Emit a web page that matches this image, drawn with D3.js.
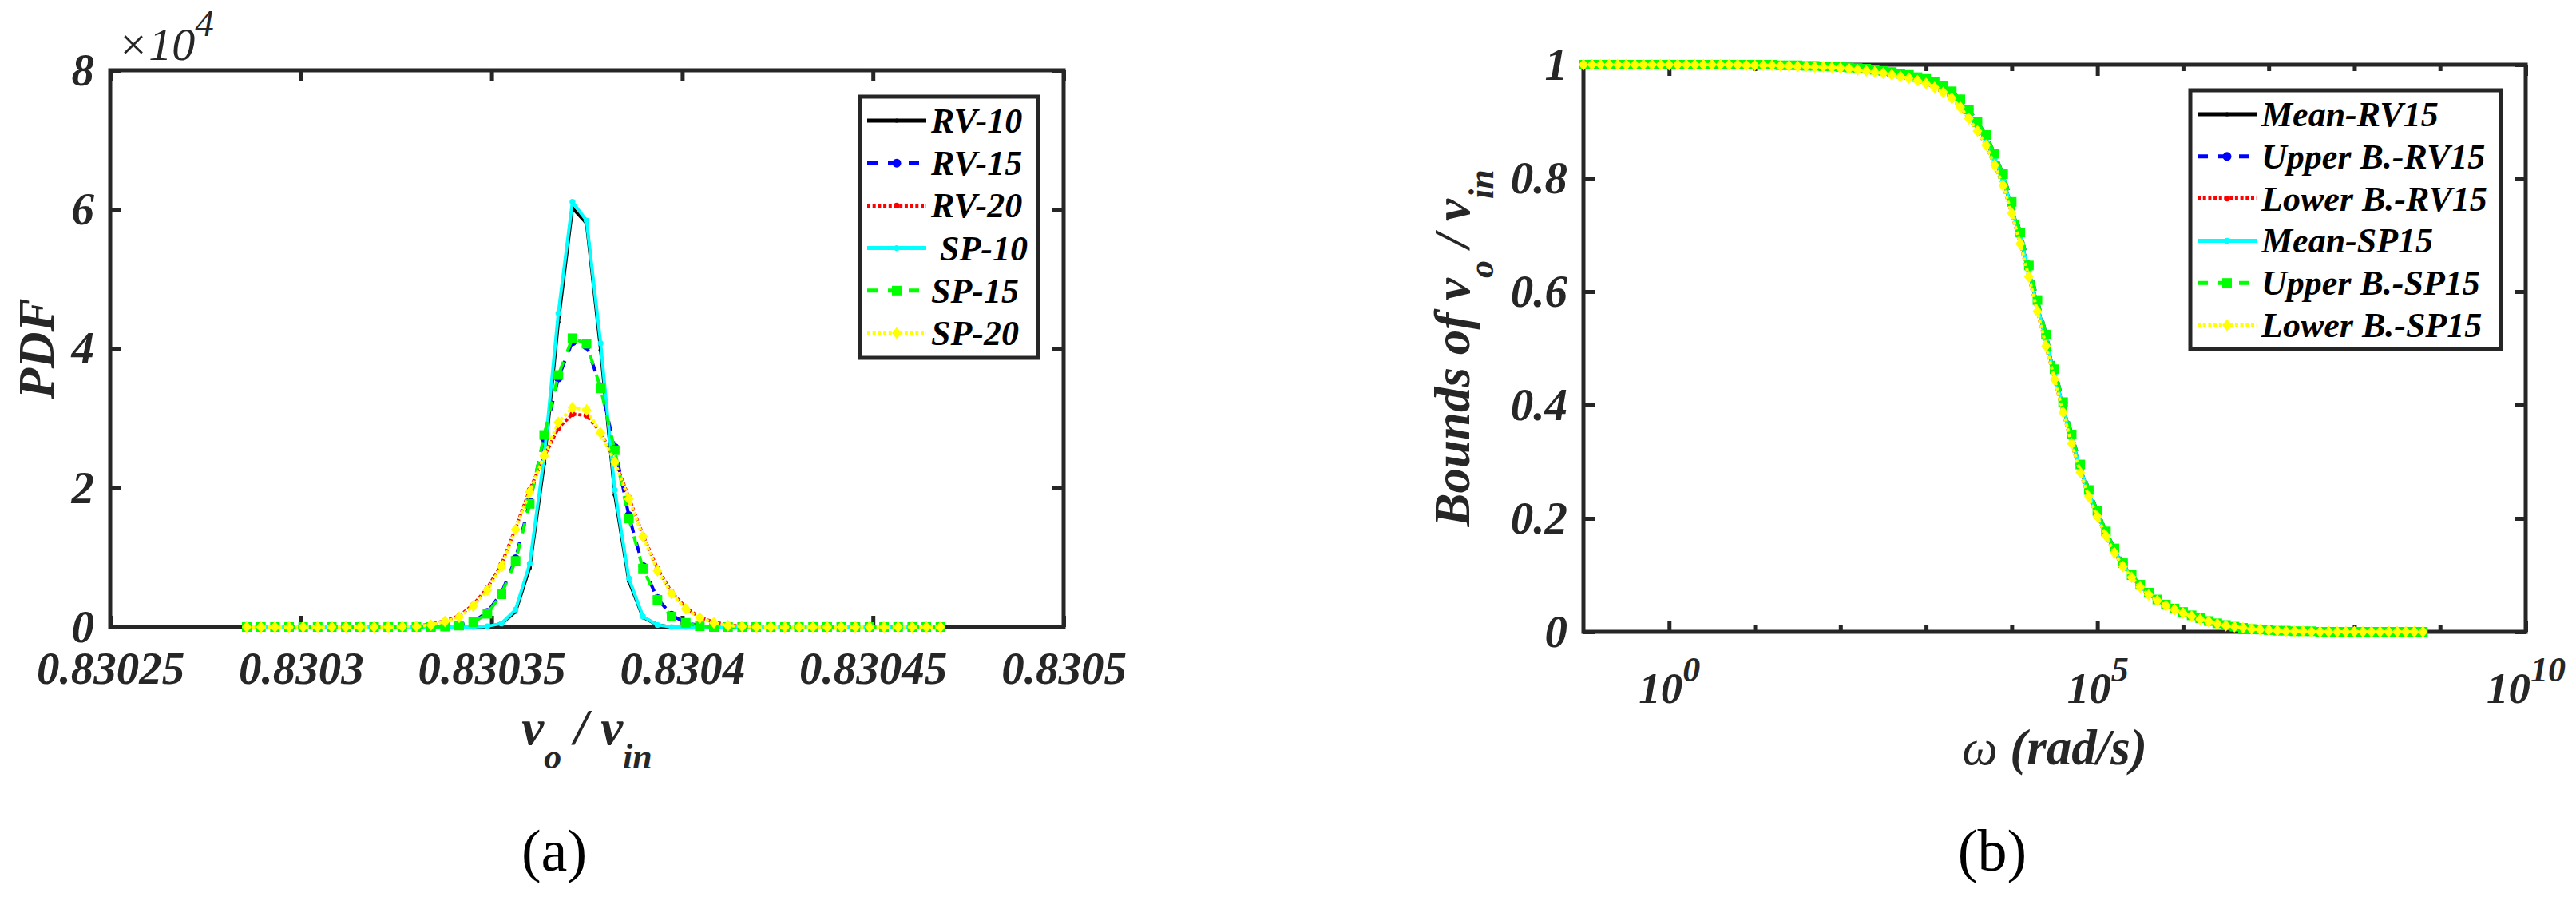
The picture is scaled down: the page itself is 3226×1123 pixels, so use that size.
<!DOCTYPE html>
<html><head><meta charset="utf-8">
<script src="https://cdn.jsdelivr.net/npm/d3@7"></script>
<style>
html,body{margin:0;padding:0;background:#fff;}
svg{display:block;}
text{white-space:pre;}
</style></head>
<body>
<svg id="fig" width="3226" height="1123"></svg>
<script>
// ================= DATA : panel (a)  PDF of vo/vin =================
const pdfX = [0.8302858,0.8302895,0.8302932,0.8302969,0.8303006,0.8303044,0.8303081,0.8303118,0.8303155,0.8303192,
              0.8303229,0.8303266,0.8303303,0.8303341,0.8303378,0.8303415,0.8303452,0.8303489,0.8303526,0.8303563,
              0.8303600,0.8303638,0.8303675,0.8303712,0.8303749,0.8303786,0.8303823,0.8303860,0.8303897,0.8303935,
              0.8303972,0.8304009,0.8304046,0.8304083,0.8304120,0.8304157,0.8304194,0.8304232,0.8304269,0.8304306,
              0.8304343,0.8304380,0.8304417,0.8304454,0.8304491,0.8304529,0.8304566,0.8304603,0.8304640,0.8304677];
// PDF values in units of 10^4
const rv10 = [0,0,0,0,0,0,0,0,0,0, 0,0,0,0,0,0,0,0,0.05,0.22, 0.85,2.35,4.38,6.02,5.80,3.98,1.90,0.66,0.14,0.03,
              0,0,0,0,0,0,0,0,0,0, 0,0,0,0,0,0,0,0,0,0];
const rv15 = [0,0,0,0,0,0,0,0,0,0, 0,0,0,0,0.01,0.03,0.08,0.21,0.49,0.98, 1.80,2.72,3.58,4.10,4.04,3.45,2.58,1.60,0.87,0.41,
              0.17,0.06,0.02,0,0,0,0,0,0,0, 0,0,0,0,0,0,0,0,0,0];
const rv20 = [0,0,0,0,0,0,0,0,0,0, 0,0.005,0.015,0.04,0.09,0.16,0.32,0.56,0.90,1.42, 1.97,2.45,2.86,3.06,3.04,2.80,2.40,1.86,1.32,0.84,
              0.50,0.28,0.14,0.07,0.03,0.01,0,0,0,0, 0,0,0,0,0,0,0,0,0,0];
const sp10 = [0,0,0,0,0,0,0,0,0,0, 0,0,0,0,0,0,0,0.01,0.05,0.25, 0.91,2.45,4.51,6.11,5.84,4.08,1.97,0.70,0.15,0.03,
              0,0,0,0,0,0,0,0,0,0, 0,0,0,0,0,0,0,0,0,0];
const sp15 = [0,0,0,0,0,0,0,0,0,0, 0,0,0,0,0.005,0.02,0.07,0.19,0.47,0.95, 1.77,2.76,3.62,4.15,4.07,3.43,2.54,1.56,0.84,0.39,
              0.15,0.06,0.01,0,0,0,0,0,0,0, 0,0,0,0,0,0,0,0,0,0];
const sp20 = [0,0,0,0,0,0,0,0,0,0, 0,0.005,0.01,0.03,0.08,0.14,0.30,0.53,0.87,1.40, 1.94,2.46,2.94,3.15,3.12,2.79,2.37,1.84,1.30,0.81,
              0.48,0.26,0.13,0.06,0.02,0.01,0,0,0,0, 0,0,0,0,0,0,0,0,0,0];
const pdfXTicks = [0.83025, 0.8303, 0.83035, 0.8304, 0.83045, 0.8305];
const pdfXTickLabels = ["0.83025", "0.8303", "0.83035", "0.8304", "0.83045", "0.8305"];
const pdfYTicks = [0, 2, 4, 6, 8];
const pdfYTickLabels = ["0", "2", "4", "6", "8"];
const pdfNames = ["RV-10", "RV-15", "RV-20", "\u00A0SP-10", "SP-15", "SP-20"];

// ================= DATA : panel (b)  bounds of vo/vin vs omega =================
const omegaExp = [-1.0,-0.9,-0.8,-0.7,-0.6,-0.5,-0.4,-0.3,-0.2,-0.1,
                   0.0, 0.1, 0.2, 0.3, 0.4, 0.5, 0.6, 0.7, 0.8, 0.9,
                   1.0, 1.1, 1.2, 1.3, 1.4, 1.5, 1.6, 1.7, 1.8, 1.9,
                   2.0, 2.1, 2.2, 2.3, 2.4, 2.5, 2.6, 2.7, 2.8, 2.9,
                   3.0, 3.1, 3.2, 3.3, 3.4, 3.5, 3.6, 3.7, 3.8, 3.9,
                   4.0, 4.1, 4.2, 4.3, 4.4, 4.5, 4.6, 4.7, 4.8, 4.9,
                   5.0, 5.1, 5.2, 5.3, 5.4, 5.5, 5.6, 5.7, 5.8, 5.9,
                   6.0, 6.1, 6.2, 6.3, 6.4, 6.5, 6.6, 6.7, 6.8, 6.9,
                   7.0, 7.1, 7.2, 7.3, 7.4, 7.5, 7.6, 7.7, 7.8, 7.9,
                   8.0, 8.1, 8.2, 8.3, 8.4, 8.5, 8.6, 8.7, 8.8];
const meanRV15 = [1.000,1.000,1.000,1.000,1.000,1.000,1.000,1.000,1.000,1.000,
                  1.000,1.000,1.000,1.000,1.000,1.000,1.000,1.000,1.000,1.000,
                  1.000,1.000,0.999,0.999,0.999,0.998,0.998,0.997,0.997,0.996,
                  0.995,0.994,0.993,0.991,0.989,0.987,0.985,0.982,0.979,0.975,
                  0.971,0.965,0.957,0.947,0.932,0.913,0.891,0.867,0.833,0.797,
                  0.748,0.694,0.636,0.575,0.514,0.454,0.396,0.340,0.288,0.244,
                  0.208,0.173,0.143,0.118,0.098,0.081,0.067,0.056,0.047,0.040,
                  0.034,0.028,0.023,0.019,0.015,0.012,0.009,0.007,0.005,0.004,
                  0.003,0.002,0.002,0.001,0.001,0.001,0.000,0.000,0.000,0.000,
                  0.000,0.000,0.000,0.000,0.000,0.000,0.000,0.000,0.000];
const upperRV15 = [1.000,1.000,1.000,1.000,1.000,1.000,1.000,1.000,1.000,1.000,
                   1.000,1.000,1.000,1.000,1.000,1.000,1.000,1.000,1.000,1.000,
                   1.000,1.000,1.000,0.999,0.999,0.999,0.998,0.998,0.997,0.997,
                   0.996,0.995,0.994,0.993,0.991,0.989,0.987,0.984,0.982,0.978,
                   0.975,0.970,0.963,0.953,0.939,0.921,0.899,0.876,0.843,0.807,
                   0.758,0.704,0.646,0.585,0.524,0.463,0.405,0.348,0.295,0.250,
                   0.213,0.177,0.147,0.121,0.100,0.083,0.069,0.057,0.048,0.041,
                   0.035,0.029,0.024,0.019,0.015,0.012,0.009,0.007,0.005,0.004,
                   0.003,0.002,0.002,0.001,0.001,0.001,0.000,0.000,0.000,0.000,
                   0.000,0.000,0.000,0.000,0.000,0.000,0.000,0.000,0.000];
const lowerRV15 = [1.000,1.000,1.000,1.000,1.000,1.000,1.000,1.000,1.000,1.000,
                   1.000,1.000,1.000,1.000,1.000,1.000,1.000,1.000,1.000,0.999,
                   0.999,0.999,0.999,0.998,0.998,0.997,0.997,0.996,0.996,0.995,
                   0.994,0.993,0.991,0.989,0.987,0.985,0.982,0.979,0.976,0.972,
                   0.967,0.960,0.951,0.941,0.925,0.905,0.883,0.858,0.823,0.787,
                   0.738,0.684,0.626,0.565,0.504,0.445,0.387,0.332,0.281,0.238,
                   0.203,0.169,0.139,0.115,0.096,0.079,0.065,0.055,0.046,0.039,
                   0.033,0.027,0.022,0.018,0.014,0.011,0.009,0.007,0.005,0.004,
                   0.003,0.002,0.001,0.001,0.001,0.000,0.000,0.000,0.000,0.000,
                   0.000,0.000,0.000,0.000,0.000,0.000,0.000,0.000,0.000];
// the SP15 bounds coincide with the RV15 bounds in the reference
const meanSP15 = meanRV15, upperSP15 = upperRV15, lowerSP15 = lowerRV15;
const boundYTicks = [0, 0.2, 0.4, 0.6, 0.8, 1];
const boundYTickLabels = ["0", "0.2", "0.4", "0.6", "0.8", "1"];
const omegaMajorTicks = [1, 1e5, 1e10];
const omegaMajorExp = ["0", "5", "10"];
const omegaMinorTicks = [1e1, 1e2, 1e3, 1e4, 1e6, 1e7, 1e8, 1e9];
const boundNames = ["Mean-RV15", "Upper B.-RV15", "Lower B.-RV15", "Mean-SP15", "Upper B.-SP15", "Lower B.-SP15"];

// ================= STYLE =================
const FONT = "'Liberation Serif','Times New Roman',Times,serif";
const AX = "#262626";
const seriesStyle = [
  {color:"#000000", dash:null,       marker:"circle",  size:2.6},
  {color:"#0000ff", dash:"13,13",    marker:"circle",  size:5.5},
  {color:"#ff0000", dash:"4,2.7",    marker:"circle",  size:3.6},
  {color:"#00ffff", dash:null,       marker:"circle",  size:3.6},
  {color:"#00ff00", dash:"13,13",    marker:"square",  size:6},
  {color:"#ffff00", dash:"4,2.7",    marker:"diamond", size:6}
];

const svg = d3.select("#fig");
svg.append("rect").attr("width",3226).attr("height",1123).attr("fill","#fff");

function styleAxis(g, fs, bold) {
  g.attr("font-family", null).attr("font-size", null);
  g.select(".domain").remove();
  g.selectAll(".tick line").attr("stroke", AX).attr("stroke-width", 5);
  g.selectAll(".tick text").attr("fill", AX).attr("font-family", FONT)
    .attr("font-size", fs).attr("font-style", "italic").attr("font-weight", bold ? "bold" : "normal");
}

function drawMarker(sel, st, cx, cy) {
  if (st.marker === "circle") {
    sel.append("circle").attr("cx", cx).attr("cy", cy).attr("r", st.size).attr("fill", st.color);
  } else if (st.marker === "square") {
    sel.append("rect").attr("x", cx - st.size).attr("y", cy - st.size)
      .attr("width", 2 * st.size).attr("height", 2 * st.size).attr("fill", st.color);
  } else {
    const w = st.size, h = st.size * 1.25;
    sel.append("path").attr("d", `M${cx},${cy-h}L${cx+w},${cy}L${cx},${cy+h}L${cx-w},${cy}Z`).attr("fill", st.color);
  }
}

function drawSeries(g, xs, ys, xScale, yScale, st) {
  const line = d3.line().x((d, i) => xScale(xs[i])).y(d => yScale(d));
  g.append("path").datum(ys).attr("d", line).attr("fill", "none")
    .attr("stroke", st.color).attr("stroke-width", 4)
    .attr("stroke-dasharray", st.dash).attr("stroke-linejoin", "round");
  const mg = g.append("g");
  ys.forEach((v, i) => drawMarker(mg, st, xScale(xs[i]), yScale(v)));
}

function drawLegend(g, box, names, lineX0, lineX1, textX, row0, rowStep) {
  g.append("rect").attr("x", box[0]).attr("y", box[1]).attr("width", box[2] - box[0]).attr("height", box[3] - box[1])
    .attr("fill", "#fff").attr("stroke", AX).attr("stroke-width", 5);
  names.forEach((nm, i) => {
    const st = seriesStyle[i];
    const y = row0 + i * rowStep;
    g.append("line").attr("x1", lineX0).attr("x2", lineX1).attr("y1", y).attr("y2", y)
      .attr("stroke", st.color).attr("stroke-width", 5).attr("stroke-dasharray", st.dash);
    drawMarker(g, st, (lineX0 + lineX1) / 2, y);
    g.append("text").attr("x", textX).attr("y", y + 15).text(nm)
      .attr("font-family", FONT).attr("font-size", 44).attr("font-weight", "bold").attr("font-style", "italic").attr("fill", "#000");
  });
}

// ================= PANEL (a) =================
const A = {left:138, right:1332, top:88, bottom:785};
const xA = d3.scaleLinear().domain([0.83025, 0.8305]).range([A.left, A.right]);
const yA = d3.scaleLinear().domain([0, 8]).range([A.bottom, A.top]);
const gA = svg.append("g");

gA.append("rect").attr("x", A.left).attr("y", A.top).attr("width", A.right - A.left).attr("height", A.bottom - A.top)
  .attr("fill", "none").attr("stroke", AX).attr("stroke-width", 5);
gA.append("g").attr("transform", `translate(0,${A.bottom})`)
  .call(d3.axisBottom(xA).tickValues(pdfXTicks).tickFormat((d, i) => pdfXTickLabels[i]).tickSizeInner(-14).tickSizeOuter(0).tickPadding(31))
  .call(g => styleAxis(g, 57, true));
gA.append("g").attr("transform", `translate(0,${A.top})`)
  .call(d3.axisTop(xA).tickValues(pdfXTicks).tickFormat("").tickSizeInner(-14).tickSizeOuter(0))
  .call(g => styleAxis(g, 57, true));
gA.append("g").attr("transform", `translate(${A.left},0)`)
  .call(d3.axisLeft(yA).tickValues(pdfYTicks).tickFormat((d, i) => pdfYTickLabels[i]).tickSizeInner(-14).tickSizeOuter(0).tickPadding(20))
  .call(g => styleAxis(g, 57, true));
gA.append("g").attr("transform", `translate(${A.right},0)`)
  .call(d3.axisRight(yA).tickValues(pdfYTicks).tickFormat("").tickSizeInner(-14).tickSizeOuter(0))
  .call(g => styleAxis(g, 57, true));

// exponent label x10^4
const expA = gA.append("text").attr("x", A.left + 9).attr("y", 75).attr("fill", AX)
  .attr("font-family", FONT).attr("font-style", "italic");
expA.append("tspan").attr("font-size", 58).text("\u00D710");
expA.append("tspan").attr("font-size", 47).attr("dy", -30).text("4");

[rv10, rv15, rv20, sp10, sp15, sp20].forEach((ys, k) => drawSeries(gA, pdfX, ys, xA, yA, seriesStyle[k]));

drawLegend(gA, [1077, 121, 1300, 448], pdfNames, 1086, 1160, 1166, 151, 53.2);

// axis labels
gA.append("text").attr("transform", `translate(67,${(A.top + A.bottom) / 2}) rotate(-90)`)
  .attr("text-anchor", "middle").attr("font-family", FONT).attr("font-size", 63)
  .attr("font-weight", "bold").attr("font-style", "italic").attr("fill", AX).text("PDF");
function vRatio(t) {
  t.append("tspan").text("v");
  t.append("tspan").attr("font-size", 44).attr("dy", 30).text("o");
  t.append("tspan").attr("dy", -30).text(" / v");
  t.append("tspan").attr("font-size", 44).attr("dy", 30).text("in");
}
const xlA = gA.append("text").attr("x", (A.left + A.right) / 2).attr("y", 932).attr("text-anchor", "middle")
  .attr("font-family", FONT).attr("font-size", 63).attr("font-weight", "bold").attr("font-style", "italic").attr("fill", AX);
vRatio(xlA);

svg.append("text").attr("x", 694).attr("y", 1090).attr("text-anchor", "middle")
  .attr("font-family", FONT).attr("font-size", 74).attr("fill", "#000").text("(a)");

// ================= PANEL (b) =================
const B = {left:1983, right:3163, top:81, bottom:791};
const xB = d3.scaleLog().domain([0.1, 1e10]).range([B.left, B.right]);
const yB = d3.scaleLinear().domain([0, 1]).range([B.bottom, B.top]);
const omega = omegaExp.map(e => Math.pow(10, e));
const gB = svg.append("g");

gB.append("rect").attr("x", B.left).attr("y", B.top).attr("width", B.right - B.left).attr("height", B.bottom - B.top)
  .attr("fill", "none").attr("stroke", AX).attr("stroke-width", 5);
// bottom major with labels 10^n
gB.append("g").attr("transform", `translate(0,${B.bottom})`)
  .call(d3.axisBottom(xB).tickValues(omegaMajorTicks).tickFormat("").tickSizeInner(-14).tickSizeOuter(0))
  .call(g => styleAxis(g, 55, true))
  .call(g => g.selectAll(".tick text").each(function(d, i) {
      const t = d3.select(this).attr("y", 89).attr("dy", null).text(null);
      t.append("tspan").attr("font-size", 55).text("10");
      t.append("tspan").attr("font-size", 44).attr("dy", -27).text(omegaMajorExp[i]);
  }));
gB.append("g").attr("transform", `translate(0,${B.bottom})`)
  .call(d3.axisBottom(xB).tickValues(omegaMinorTicks).tickFormat("").tickSizeInner(-8).tickSizeOuter(0))
  .call(g => styleAxis(g, 55, true));
gB.append("g").attr("transform", `translate(0,${B.top})`)
  .call(d3.axisTop(xB).tickValues(omegaMajorTicks).tickFormat("").tickSizeInner(-14).tickSizeOuter(0))
  .call(g => styleAxis(g, 55, true));
gB.append("g").attr("transform", `translate(0,${B.top})`)
  .call(d3.axisTop(xB).tickValues(omegaMinorTicks).tickFormat("").tickSizeInner(-8).tickSizeOuter(0))
  .call(g => styleAxis(g, 55, true));
gB.append("g").attr("transform", `translate(${B.left},0)`)
  .call(d3.axisLeft(yB).tickValues(boundYTicks).tickFormat((d, i) => boundYTickLabels[i]).tickSizeInner(-14).tickSizeOuter(0).tickPadding(20))
  .call(g => styleAxis(g, 57, true));
gB.append("g").attr("transform", `translate(${B.right},0)`)
  .call(d3.axisRight(yB).tickValues(boundYTicks).tickFormat("").tickSizeInner(-14).tickSizeOuter(0))
  .call(g => styleAxis(g, 57, true));

[meanRV15, upperRV15, lowerRV15, meanSP15, upperSP15, lowerSP15].forEach((ys, k) => drawSeries(gB, omega, ys, xB, yB, seriesStyle[k]));

drawLegend(gB, [2743, 113, 3132, 437], boundNames, 2752, 2826, 2832, 143, 52.8);

const ylB = gB.append("text").attr("transform", `translate(1840,${(B.top + B.bottom) / 2}) rotate(-90)`)
  .attr("text-anchor", "middle").attr("font-family", FONT).attr("font-size", 63)
  .attr("font-weight", "bold").attr("font-style", "italic").attr("fill", AX);
ylB.append("tspan").text("Bounds of ");
vRatio(ylB);

const xlB = gB.append("text").attr("x", (B.left + B.right) / 2).attr("y", 957).attr("text-anchor", "middle")
  .attr("font-family", FONT).attr("font-size", 63).attr("font-style", "italic").attr("fill", AX);
xlB.append("tspan").attr("font-weight", "normal").text("\u03C9");
xlB.append("tspan").attr("font-weight", "bold").text(" (rad/s)");

svg.append("text").attr("x", 2495).attr("y", 1090).attr("text-anchor", "middle")
  .attr("font-family", FONT).attr("font-size", 74).attr("fill", "#000").text("(b)");
</script>
</body></html>
